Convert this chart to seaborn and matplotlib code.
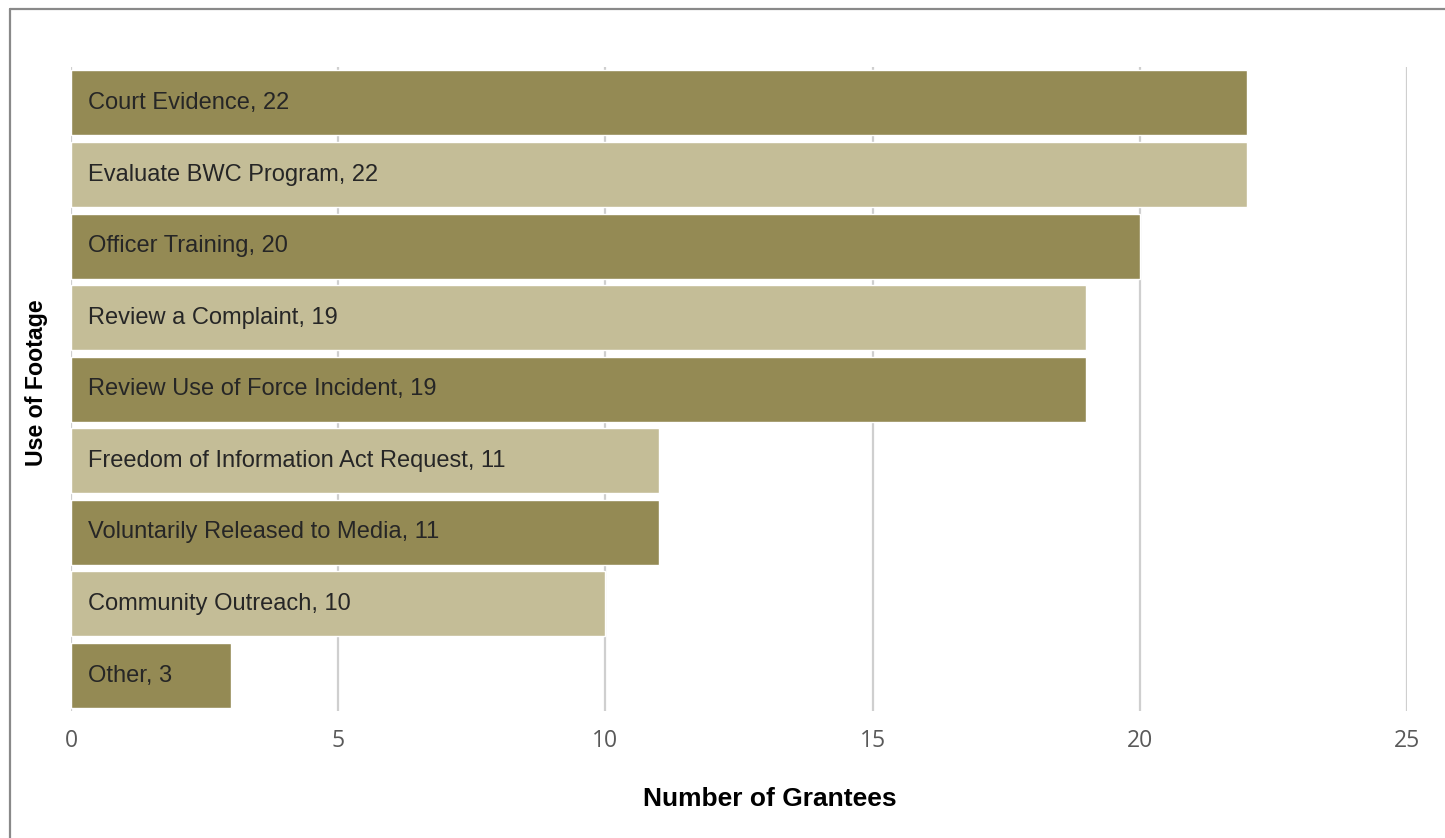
import matplotlib
matplotlib.use("Agg")
import matplotlib.pyplot as plt
import seaborn as sns
import pandas as pd
from matplotlib.lines import Line2D

categories = [
    "Court Evidence",
    "Evaluate BWC Program",
    "Officer Training",
    "Review a Complaint",
    "Review Use of Force Incident",
    "Freedom of Information Act Request",
    "Voluntarily Released to Media",
    "Community Outreach",
    "Other",
]
values = [22, 22, 20, 19, 19, 11, 11, 10, 3]
x_ticks = [0, 5, 10, 15, 20, 25]
x_title = "Number of Grantees"
y_title = "Use of Footage"

dark = "#948A54"
light = "#C4BD97"
colors = [dark if i % 2 == 0 else light for i in range(len(categories))]

df = pd.DataFrame({"category": categories, "value": values})

sns.set_theme(style="white")
plt.rcParams["font.family"] = ["Liberation Sans", "DejaVu Sans"]

fig = plt.figure(figsize=(14.45, 8.38), dpi=100)
ax = fig.add_axes([71 / 1445, 1 - 711.3 / 838, (1407 - 71) / 1445, (711.3 - 67.2) / 838])

sns.barplot(data=df, y="category", x="value", hue="category",
            palette=colors, order=categories, hue_order=categories,
            orient="h", width=0.908, legend=False, ax=ax, saturation=1,
            zorder=3)

ax.set_xlim(0, 25)
ax.set_xticks(x_ticks)
ax.set_xticklabels([str(t) for t in x_ticks], fontfamily="Open Sans",
                   fontsize=16.5, color="#595959")
ax.set_yticks([])
ax.tick_params(axis="x", length=0, pad=13)
for s in ax.spines.values():
    s.set_visible(False)
ax.grid(axis="x", color="#CFCFCF", linewidth=1.6, zorder=0)
ax.set_axisbelow(True)

for i, (c, v) in enumerate(zip(categories, values)):
    ax.text(0.32, i, f"{c}, {v}", va="center", ha="left",
            fontsize=17, color="#262626", zorder=4)

ax.set_xlabel("")
ax.set_ylabel("")
fig.text(769.5 / 1445, 1 - 799 / 838, x_title, fontsize=19,
         fontweight="bold", color="black", ha="center", va="center")
fig.text(37 / 1445, 1 - 383 / 838, y_title, rotation=90, fontsize=16.7,
         fontweight="bold", color="black", ha="center", va="center")

# outer border (chart area frame)
fig.add_artist(Line2D([10 / 1445, 1.01], [1 - 9.5 / 838, 1 - 9.5 / 838],
                      transform=fig.transFigure, color="#898989", linewidth=1.6))
fig.add_artist(Line2D([10 / 1445, 10 / 1445], [1 - 9.5 / 838, -0.01],
                      transform=fig.transFigure, color="#898989", linewidth=1.6))

fig.savefig("out.png", dpi=100)
